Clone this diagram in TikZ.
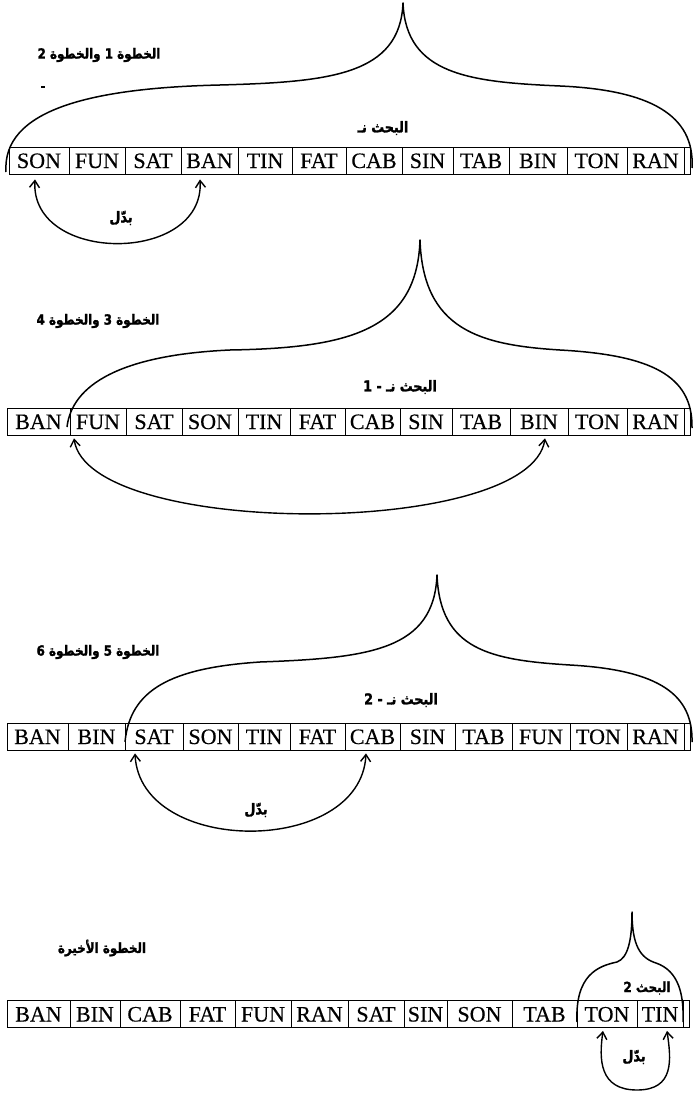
\documentclass[tikz,border=0pt]{standalone}
\usepackage{fontspec}
\setmainfont[FakeBold=0.4]{Liberation Serif}
\newfontfamily\arabicfont[Script=Arabic,FakeStretch=0.85,FakeBold=1.5]{DejaVu Sans}
\TeXXeTstate=1
\usetikzlibrary{arrows.meta,calc}
\newcommand{\artext}[1]{\arabicfont\bfseries\beginR #1\endR}
\begin{document}
\begin{tikzpicture}[x=1pt,y=-1pt,
  cell/.style={draw, line width=0.8pt, inner sep=0pt, minimum height=27pt,
    text height=15pt, text depth=0pt, font=\fontsize{22}{22}\selectfont},
  dome/.style={line width=1.5pt, line join=round},
  swaparc/.style={line width=1.4pt,
    {Straight Barb[length=7pt,width=10pt]}-{Straight Barb[length=7pt,width=10pt]}},
  lbl/.style={inner sep=0pt, font=\fontsize{14}{14}\selectfont},
  biglbl/.style={lbl, font=\fontsize{15}{15}\selectfont}
]
\useasboundingbox (0,0) rectangle (696,1094);

% ---------- rows of cells ----------
\foreach \a/\b/\t [count=\i] in {9/69/SON,69/125/FUN,125/181/SAT,181/238/BAN,238/292/TIN,292/346/FAT,346/402/CAB,402/453/SIN,453/509/TAB,509/567/BIN,567/627/TON,627/684/RAN,684/690/{}}
  \node[cell, minimum width={(\b-\a)*1pt}] (ra\i) at ({(\a+\b)/2},160.5) {\t};
\foreach \a/\b/\t [count=\i] in {7/70/BAN,70/126/FUN,126/182/SAT,182/238/SON,238/290/TIN,290/345/FAT,345/400/CAB,400/452/SIN,452/510/TAB,510/568/BIN,568/627/TON,627/684/RAN,684/690/{}}
  \node[cell, minimum width={(\b-\a)*1pt}] (rb\i) at ({(\a+\b)/2},421.5) {\t};
\foreach \a/\b/\t [count=\i] in {7/68/BAN,68/125/BIN,125/183/SAT,183/238/SON,238/290/TIN,290/345/FAT,345/400/CAB,400/455/SIN,455/512/TAB,512/570/FUN,570/627/TON,627/684/RAN,684/690/{}}
  \node[cell, minimum width={(\b-\a)*1pt}] (rc\i) at ({(\a+\b)/2},736.5) {\t};
\foreach \a/\b/\t [count=\i] in {7/70/BAN,70/120/BIN,120/180/CAB,180/235/FAT,235/291/FUN,291/348/RAN,348/404/SAT,404/447/SIN,447/512/SON,512/577/TAB,577/637/TON,637/683/TIN,683/689/{}}
  \node[cell, minimum width={(\b-\a)*1pt}] (rd\i) at ({(\a+\b)/2},1014) {\t};

% ---------- step titles ----------
\node[lbl] (stepA) at (99,55) {\artext{الخطوة 1 والخطوة 2}};
\node[lbl] (stepB) at (98,321) {\artext{الخطوة 3 والخطوة 4}};
\node[lbl] (stepC) at (98,652) {\artext{الخطوة 5 والخطوة 6}};
\node[lbl] (stepD) at (102,948) {\artext{الخطوة الأخيرة}};
\fill (41,86) rectangle (45,88.5);

% ---------- search ranges ----------
\node[biglbl] (srchA) at (383,128) {\artext{البحث نـ}};
\node[biglbl] (srchB) at (400,387) {\artext{البحث نـ - 1}};
\node[biglbl] (srchC) at (401,700) {\artext{البحث نـ - 2}};
\node[lbl] (srchD) at (647,988) {\artext{البحث 2}};

\draw[dome] (6,172) .. controls (2,110) and (90,88) .. (220,85)
  .. controls (330,82) and (400,75) .. (403,3)
  .. controls (406,75) and (470,82) .. (560,86)
  .. controls (650,90) and (695,115) .. (692,168);
\draw[dome] (67,427) .. controls (72,385) and (120,355) .. (230,350)
  .. controls (350,348) and (417,330) .. (420,240)
  .. controls (423,330) and (480,345) .. (560,350)
  .. controls (650,355) and (693,375) .. (692,428);
\draw[dome] (125,742) .. controls (130,690) and (170,668) .. (260,662)
  .. controls (370,658) and (434,650) .. (437,575)
  .. controls (440,650) and (490,660) .. (570,665)
  .. controls (660,670) and (693,695) .. (692,742);
\draw[dome] (577,1022) .. controls (575,975) and (598,966) .. (617,962)
  .. controls (628,958) and (632,940) .. (632,912)
  .. controls (632,945) and (640,958) .. (656,963)
  .. controls (679,971) and (684,995) .. (683,1022);

% ---------- swaps ----------
\node[biglbl] (swapA) at (121,218) {\artext{بدّل}};
\node[biglbl] (swapC) at (256,810) {\artext{بدّل}};
\node[biglbl] (swapD) at (634,1057) {\artext{بدّل}};

\draw[swaparc] ($(ra1.south)+(-4,5)$) .. controls +(-5,85) and +(5,85) .. ($(ra4.south)+(-9.5,5)$);
\draw[swaparc] ($(rb2.south)+(-24,3)$) .. controls +(15,100) and +(-15,100) .. ($(rb10.south)+(6,3)$);
\draw[swaparc] ($(rc3.south)+(-19,3)$) .. controls +(5,103) and +(-5,103) .. ($(rc7.south)+(-6.5,3)$);
\draw[swaparc] ($(rd11.south)+(-4,3)$) .. controls +(-4,28) and +(-38,0) .. (637,1090)
  .. controls +(38,0) and +(4,28) .. ($(rd12.south)+(7,3)$);
\end{tikzpicture}
\end{document}
